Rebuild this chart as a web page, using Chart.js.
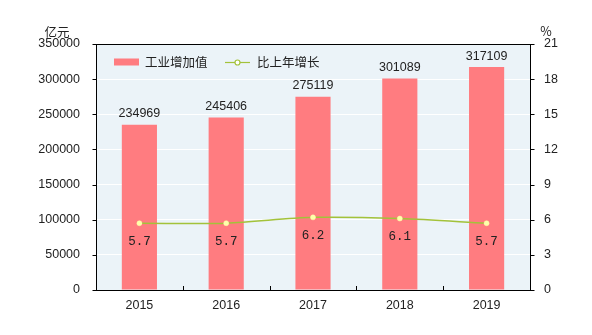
<!DOCTYPE html>
<html>
<head>
<meta charset="utf-8">
<script src="https://cdn.jsdelivr.net/npm/chart.js@4/dist/chart.umd.min.js"></script>
<style>
    html, body { margin: 0; padding: 0; background: #ffffff; }
    #wrap { width: 592px; height: 335px; position: relative; }
</style>
</head>
<body>
<div id="wrap"><canvas id="chart" width="592" height="335"></canvas></div>
<script>
// Industrial value added (100 million yuan) and growth over previous year (%)
const years = ['2015', '2016', '2017', '2018', '2019'];
const valueAdded = [234969, 245406, 275119, 301089, 317109];
const growthRate = [5.7, 5.7, 6.2, 6.1, 5.7];

const leftTicks = { min: 0, max: 350000, step: 50000 };
const rightTicks = { min: 0, max: 21, step: 3 };

const barColor = '#ff7c80';
const lineColor = '#a3c23a';
const plotBg = '#ebf3f8';
const textColor = '#222222';
const tickFont = { family: 'Liberation Sans', size: 12.5 };

// Plot background, frame, axis ticks and the two axis titles
const framePlugin = {
    id: 'frame',
    beforeDraw(chart) {
        const { ctx, chartArea: a } = chart;
        ctx.save();
        ctx.fillStyle = plotBg;
        ctx.fillRect(a.left, a.top, a.right - a.left, a.bottom - a.top);
        ctx.restore();
    },
    afterDraw(chart) {
        const { ctx, chartArea: a } = chart;
        const x = chart.scales.x;
        const left = Math.round(a.left) + 0.5;
        const right = Math.round(a.right) + 0.5;
        ctx.save();
        ctx.strokeStyle = '#000000';
        ctx.lineWidth = 1;
        ctx.strokeRect(left, Math.round(a.top) + 0.5,
            Math.round(a.right - a.left), Math.round(a.bottom - a.top));
        ctx.beginPath();
        // small ticks pointing up between categories
        for (let i = 0; i < years.length - 1; i++) {
            const px = Math.round((x.getPixelForValue(i) + x.getPixelForValue(i + 1)) / 2) + 0.5;
            ctx.moveTo(px, a.bottom);
            ctx.lineTo(px, a.bottom - 4);
        }
        // outward ticks on both value axes
        chart.scales.y.ticks.forEach(t => {
            const py = Math.round(chart.scales.y.getPixelForValue(t.value)) + 0.5;
            ctx.moveTo(left - 4, py);
            ctx.lineTo(left, py);
        });
        chart.scales.y1.ticks.forEach(t => {
            const py = Math.round(chart.scales.y1.getPixelForValue(t.value)) + 0.5;
            ctx.moveTo(right, py);
            ctx.lineTo(right + 4, py);
        });
        ctx.stroke();

        ctx.fillStyle = textColor;
        ctx.font = '12.5px "Noto Sans CJK SC"';
        ctx.textAlign = 'center';
        ctx.textBaseline = 'middle';
        ctx.fillText('亿元', 57, 32);
        ctx.fillText('%', 546, 31);
        ctx.restore();
    }
};

// Legend inside the plot, top-left
const legendPlugin = {
    id: 'innerLegend',
    afterDraw(chart) {
        const { ctx, chartArea: a } = chart;
        const y = a.top + 18;
        let x = a.left + 18;
        ctx.save();
        ctx.fillStyle = barColor;
        ctx.fillRect(x, y - 3.5, 25, 7);
        ctx.fillStyle = textColor;
        ctx.font = '12.5px "Noto Sans CJK SC"';
        ctx.textBaseline = 'middle';
        ctx.textAlign = 'left';
        ctx.fillText('工业增加值', x + 31, y);

        x = a.left + 129;
        ctx.strokeStyle = lineColor;
        ctx.lineWidth = 1.2;
        ctx.beginPath();
        ctx.moveTo(x, y + 0.5);
        ctx.lineTo(x + 25, y + 0.5);
        ctx.stroke();
        ctx.beginPath();
        ctx.arc(x + 12.5, y + 0.5, 2.5, 0, Math.PI * 2);
        ctx.fillStyle = '#ffffff';
        ctx.fill();
        ctx.stroke();
        ctx.fillStyle = textColor;
        ctx.fillText('比上年增长', x + 32, y);
        ctx.restore();
    }
};

// Value labels: above the bars, below the line points
const valueLabelPlugin = {
    id: 'valueLabels',
    afterDatasetsDraw(chart) {
        const { ctx } = chart;
        ctx.save();
        ctx.fillStyle = textColor;
        ctx.textAlign = 'center';
        ctx.textBaseline = 'middle';

        ctx.font = '12.5px "Liberation Sans"';
        chart.getDatasetMeta(0).data.forEach((bar, i) => {
            ctx.fillText(String(valueAdded[i]), bar.x, bar.y - 11);
        });

        ctx.font = '12.5px "Liberation Mono"';
        chart.getDatasetMeta(1).data.forEach((pt, i) => {
            ctx.fillText(growthRate[i].toFixed(1), pt.x, pt.y + 18);
        });
        ctx.restore();
    }
};

const ctx = document.getElementById('chart').getContext('2d');
new Chart(ctx, {
    data: {
        labels: years,
        datasets: [{
            type: 'bar',
            label: '工业增加值',
            data: valueAdded,
            yAxisID: 'y',
            backgroundColor: barColor,
            categoryPercentage: 1,
            barPercentage: 0.405,
            order: 1
        }, {
            type: 'line',
            label: '比上年增长',
            data: growthRate,
            yAxisID: 'y1',
            borderColor: lineColor,
            borderWidth: 1.5,
            tension: 0.3,
            pointRadius: 2.5,
            pointBackgroundColor: '#ffffaa',
            pointBorderColor: '#ffffaa',
            pointBorderWidth: 0.5,
            order: 0
        }]
    },
    options: {
        responsive: false,
        animation: false,
        layout: { padding: { top: 44, right: 0, bottom: 0, left: 0 } },
        plugins: {
            legend: { display: false },
            tooltip: { enabled: false }
        },
        scales: {
            x: {
                grid: { display: false },
                border: { display: false },
                ticks: { color: textColor, font: tickFont, padding: 0 },
                afterFit(scale) { scale.height = 45; }
            },
            y: {
                position: 'left',
                min: leftTicks.min,
                max: leftTicks.max,
                ticks: {
                    stepSize: leftTicks.step, color: textColor, font: tickFont, padding: 12,
                    callback: v => String(v)
                },
                grid: { color: '#ffffff', lineWidth: 1, drawTicks: true, tickColor: 'rgba(0,0,0,0)', tickLength: 4 },
                border: { display: false },
                afterFit(scale) { scale.width = 96; }
            },
            y1: {
                position: 'right',
                min: rightTicks.min,
                max: rightTicks.max,
                ticks: {
                    stepSize: rightTicks.step, color: textColor, font: tickFont, padding: 10,
                    callback: v => String(v)
                },
                grid: { drawOnChartArea: false, tickColor: 'rgba(0,0,0,0)', tickLength: 4 },
                border: { display: false },
                afterFit(scale) { scale.width = 62; }
            }
        }
    },
    plugins: [framePlugin, legendPlugin, valueLabelPlugin]
});
</script>
</body>
</html>
